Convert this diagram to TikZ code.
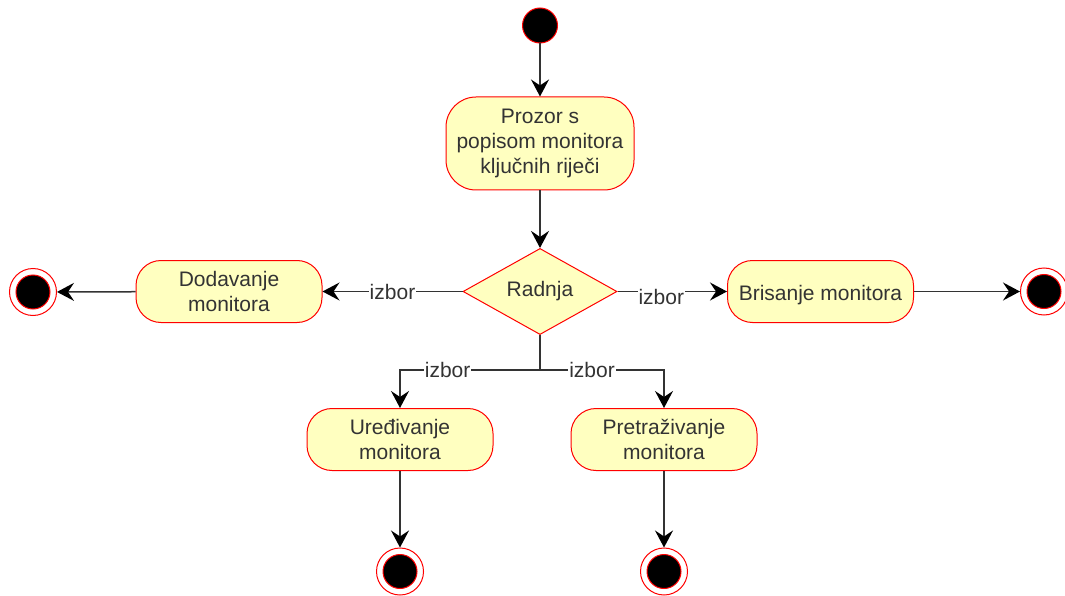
\documentclass[tikz,border=0pt]{standalone}
\usepackage{fontspec}
\setmainfont{Liberation Sans}
\usetikzlibrary{arrows.meta,shapes.geometric,positioning}
\definecolor{actfill}{HTML}{FFFFC0}
\tikzset{
  txt/.style={text=black!80, font=\fontsize{21}{25}\selectfont},
  act/.style={txt, draw=red, line width=1pt, fill=actfill, rounded corners=25pt, align=center,
    minimum width=186pt, minimum height=62pt, inner sep=2pt},
  choice/.style={txt, diamond, draw=red, line width=1pt, fill=actfill,
    minimum width=154pt, minimum height=77pt, inner sep=0pt},
  startdot/.style={circle, draw=red, line width=1pt, fill=black, minimum size=35pt, inner sep=0pt},
  enddot/.style={circle, draw=red, line width=1pt, fill=white, minimum size=47pt, inner sep=0pt,
    path picture={\draw[red, line width=1pt, fill=black] (path picture bounding box.center) circle (17pt);}},
  flow/.style={draw=black!80, line width=1.5pt, -{Stealth[length=17pt, width=18pt, inset=6pt, color=black]}},
  lbl/.style={txt, fill=white, inner sep=1pt}
}
\begin{document}
\begin{tikzpicture}[x=1pt, y=-1pt]
  \useasboundingbox (0,0) rectangle (1065,596);

  %%%%% NODES %%%%%
  \node[startdot] (start) at (540,25.5) {};
  \node[act, minimum width=188pt, minimum height=93pt, rounded corners=30pt] (prozor) at (540,143.5)
    {Prozor s\\popisom monitora\\ključnih riječi};
  \node[choice] (radnja) at (540,291.5) {Radnja};
  \node[act] (dodavanje) at (229,291.5) {Dodavanje\\monitora};
  \node[act, text height=21pt, text depth=4pt] (brisanje) at (820.5,291.5) {Brisanje monitora};
  \node[act] (uredivanje) at (400,439.5) {Uređivanje\\monitora};
  \node[act] (pretrazivanje) at (664,439.5) {Pretraživanje\\monitora};
  \coordinate (split) at (540,370);

  \node[enddot] (endL) at (33,292) {};
  \node[enddot] (endR) at (1044,291.5) {};
  \node[enddot] (endU) at (400,571.5) {};
  \node[enddot] (endP) at (664,571.5) {};

  %%%%% CONNECTORS %%%%%
  \draw[flow] (start) -- (prozor);
  \draw[flow] (prozor) -- (radnja);
  \draw[flow] (radnja.west) -- node[lbl] {izbor} (dodavanje.east);
  \draw[flow] (radnja.east) -- node[lbl, pos=0.4, yshift=-5pt] {izbor} (brisanje.west);
  \draw[flow, -] (radnja.south) -- (split);
  \draw[flow] (split) -| node[lbl, pos=0.33] {izbor} (uredivanje.north);
  \draw[flow] (split) -| node[lbl, pos=0.21] {izbor} (pretrazivanje.north);

  \draw[flow] (dodavanje) -- (endL);
  \draw[flow] (brisanje.east) -- (endR);
  \draw[flow] (uredivanje) -- (endU);
  \draw[flow] (pretrazivanje) -- (endP);
\end{tikzpicture}
\end{document}
